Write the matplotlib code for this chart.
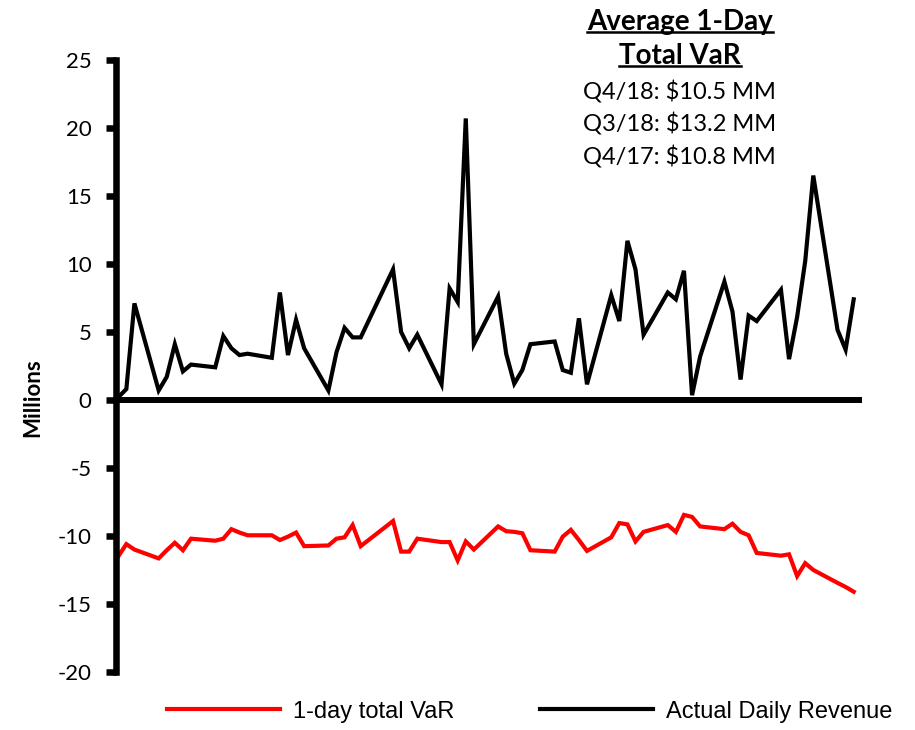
import matplotlib.pyplot as plt
import matplotlib as mpl
from matplotlib.lines import Line2D

mpl.rcParams["font.family"] = "sans-serif"
mpl.rcParams["font.sans-serif"] = ["Lato", "DejaVu Sans"]

# calendar day offsets within the quarter (weekends / holidays skipped)
DAYS = [0, 1, 2,
        5, 6, 7, 8, 9,
        12, 13, 14, 15, 16,
        19, 20, 21, 22, 23,
        26, 27, 28, 29, 30,
        34, 35, 36, 37,
        40, 41, 42, 43, 44,
        47, 48, 49, 50, 51,
        54, 55, 56, 57, 58,
        61, 62, 63, 64, 65,
        68, 69, 70, 71, 72,
        75, 76, 77, 78, 79,
        82, 83, 84, 85, 86,
        89, 90, 91]

# actual daily revenue, $MM
REVENUE = [0.2, 0.8, 7.1,
           0.7, 1.7, 4.1, 2.1, 2.6,
           2.4, 4.7, 3.8, 3.3, 3.4,
           3.1, 7.9, 3.3, 5.9, 3.8,
           0.7, 3.5, 5.3, 4.6, 4.6,
           9.6, 5.0, 3.8, 4.8,
           1.15, 8.2, 7.2, 20.7, 4.1,
           7.6, 3.4, 1.2, 2.2, 4.1,
           4.3, 2.2, 2.0, 6.0, 1.15,
           7.7, 5.8, 11.7, 9.6, 4.8,
           7.9, 7.4, 9.5, 0.35, 3.2,
           8.7, 6.5, 1.5, 6.2, 5.8,
           8.1, 3.0, 6.1, 10.2, 16.5,
           5.15, 3.7, 7.4]

# 1-day total VaR, $MM
VAR = [-11.5, -10.6, -11.0,
       -11.65, -11.05, -10.5, -11.05, -10.2,
       -10.35, -10.2, -9.5, -9.75, -9.95,
       -9.95, -10.3, -10.05, -9.75, -10.75,
       -10.7, -10.2, -10.1, -9.2, -10.75,
       -8.9, -11.15, -11.15, -10.2,
       -10.45, -10.45, -11.8, -10.4, -11.0,
       -9.3, -9.65, -9.7, -9.8, -11.05,
       -11.15, -10.05, -9.55, -10.3, -11.1,
       -10.1, -9.05, -9.15, -10.4, -9.7,
       -9.2, -9.7, -8.45, -8.6, -9.3,
       -9.5, -9.1, -9.7, -9.95, -11.25,
       -11.45, -11.35, -12.95, -12.0, -12.5,
       -13.45, -13.75, -14.1]

Y_TICKS = [-20, -15, -10, -5, 0, 5, 10, 15, 20, 25]

TITLE_LINES = ["Average 1-Day", "Total VaR"]
AVG_LINES = ["Q4/18: $10.5 MM", "Q3/18: $13.2 MM", "Q4/17: $10.8 MM"]


def underlined_text(fig, x, y, s, **kw):
    t = fig.text(x, y, s, ha="center", va="center", **kw)
    fig.canvas.draw()
    bb = t.get_window_extent(renderer=fig.canvas.get_renderer())
    bb = bb.transformed(fig.transFigure.inverted())
    uy = bb.y0 + 0.004
    fig.add_artist(Line2D([bb.x0, bb.x1], [uy, uy], color="black",
                          linewidth=1.8, transform=fig.transFigure))
    return t


fig = plt.figure(figsize=(9.15, 7.3), dpi=100)
ax = fig.add_axes([0.1273, 0.0795, 0.811, 0.8384])

var_line, = ax.plot(DAYS, VAR, color="#ff0000", linewidth=3.0,
                    solid_joinstyle="miter", label="1-day total VaR")
rev_line, = ax.plot(DAYS, REVENUE, color="black", linewidth=3.0,
                    solid_joinstyle="miter", label="Actual Daily Revenue")

ax.set_xlim(-0.22, 91.6)
ax.set_ylim(-20, 25)
ax.set_yticks(Y_TICKS)
ax.set_yticklabels([str(v) for v in Y_TICKS], fontsize=16)
ax.set_xticks([])

ax.spines["top"].set_visible(False)
ax.spines["right"].set_visible(False)
ax.spines["left"].set_linewidth(4.7)
ax.spines["bottom"].set_position(("data", 0))
ax.spines["bottom"].set_linewidth(4.3)
ax.tick_params(axis="y", direction="out", length=7, width=4.7, pad=11)

ax.set_ylabel("Millions", fontsize=16, fontweight="bold")
ax.yaxis.set_label_coords(-0.099, 0.448)

fig.legend([var_line, rev_line],
           ["1-day total VaR", "Actual Daily Revenue"],
           loc="center", bbox_to_anchor=(0.579, 0.025), ncol=2,
           frameon=False, handlelength=4.8, handletextpad=0.55,
           columnspacing=3.6, borderpad=0,
           prop={"family": "Liberation Sans", "size": 17})

underlined_text(fig, 0.743, 0.970, TITLE_LINES[0], fontsize=20, fontweight="bold")
underlined_text(fig, 0.743, 0.923, TITLE_LINES[1], fontsize=20, fontweight="bold")
for i, line in enumerate(AVG_LINES):
    fig.text(0.743, 0.874 - i * 0.0445, line, ha="center", va="center", fontsize=17)

fig.savefig("out.png", dpi=100)
